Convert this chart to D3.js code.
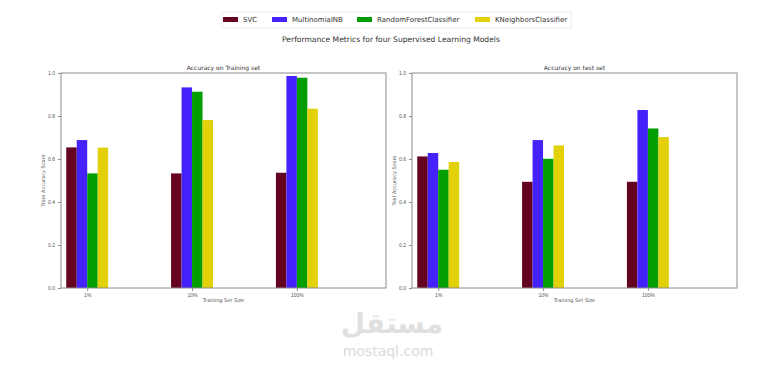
<!DOCTYPE html>
<html>
<head>
<meta charset="utf-8">
<script src="https://cdn.jsdelivr.net/npm/d3@7"></script>
<style>
  html, body { margin: 0; padding: 0; background: #fff; }
  svg { display: block; font-family: "DejaVu Sans", sans-serif; }
</style>
</head>
<body>
<svg id="chart" width="776" height="365"></svg>
<script>
// ---- data ----
const models = ["SVC", "MultinomialNB", "RandomForestClassifier", "KNeighborsClassifier"];
const colors = ["#640420", "#4322fb", "#009e00", "#e2d008"];
const sizes = ["1%", "10%", "100%"];
const trainSVC = [0.654, 0.533, 0.536];
const trainMNB = [0.688, 0.933, 0.986];
const trainRF  = [0.533, 0.913, 0.978];
const trainKNN = [0.653, 0.781, 0.834];
const testSVC = [0.612, 0.494, 0.494];
const testMNB = [0.628, 0.688, 0.828];
const testRF  = [0.550, 0.601, 0.742];
const testKNN = [0.586, 0.663, 0.702];
const yTicks = [0.0, 0.2, 0.4, 0.6, 0.8, 1.0];

const panels = [
  { title: "Accuracy on Training set", ylabel: "Train Accuracy Score", series: [trainSVC, trainMNB, trainRF, trainKNN], x0: 61, x1: 386 },
  { title: "Accuracy on test set", ylabel: "Test Accuracy Score", series: [testSVC, testMNB, testRF, testKNN], x0: 412, x1: 737 }
];

const barWidth = 0.1;
const svg = d3.select("#chart");
const plotTop = 73, plotBottom = 288;
const y = d3.scaleLinear().domain([0, 1]).range([plotBottom, plotTop]);

panels.forEach(p => {
  const x = d3.scaleLinear().domain([-0.1, 3.0]).range([p.x0, p.x1]);
  const g = svg.append("g");
  // bars
  p.series.forEach((vals, k) => {
    g.selectAll(null).data(vals).enter().append("rect")
      .attr("x", (d, i) => x(i + k * barWidth - barWidth / 2))
      .attr("width", x(barWidth) - x(0))
      .attr("y", d => y(d))
      .attr("height", d => y(0) - y(d))
      .attr("fill", colors[k]);
  });
  // frame
  g.append("rect").attr("x", p.x0).attr("y", plotTop).attr("width", p.x1 - p.x0).attr("height", plotBottom - plotTop)
    .attr("fill", "none").attr("stroke", "#8c8c8c").attr("stroke-width", 1);
  // y axis
  const yAxis = d3.axisLeft(y).tickValues(yTicks).tickFormat(d3.format(".1f")).tickSize(3).tickPadding(3);
  const ya = g.append("g").attr("transform", `translate(${p.x0},0)`).call(yAxis);
  ya.select(".domain").remove();
  ya.selectAll("line").attr("stroke", "#8c8c8c");
  ya.selectAll("text").attr("font-size", 5).attr("fill", "#555");
  // x axis
  const xAxis = d3.axisBottom(x).tickValues([0.15, 1.15, 2.15]).tickFormat((d, i) => sizes[i]).tickSize(3).tickPadding(2);
  const xa = g.append("g").attr("transform", `translate(0,${plotBottom})`).call(xAxis);
  xa.select(".domain").remove();
  xa.selectAll("line").attr("stroke", "#8c8c8c");
  xa.selectAll("text").attr("font-size", 5).attr("fill", "#555");
  // titles
  g.append("text").attr("x", (p.x0 + p.x1) / 2).attr("y", 70).attr("text-anchor", "middle")
    .attr("font-size", 6).attr("fill", "#333").text(p.title);
  g.append("text").attr("x", (p.x0 + p.x1) / 2).attr("y", 302).attr("text-anchor", "middle")
    .attr("font-size", 5).attr("fill", "#555").text("Training Set Size");
  g.append("text").attr("transform", `translate(${p.x0 - 16},${(plotTop + plotBottom) / 2}) rotate(-90)`)
    .attr("text-anchor", "middle").attr("font-size", 5).attr("fill", "#555").text(p.ylabel);
});

// legend
const leg = svg.append("g");
leg.append("rect").attr("x", 222).attr("y", 12).attr("width", 349).attr("height", 16)
  .attr("fill", "#fff").attr("stroke", "#e6e6e6").attr("stroke-width", 0.8);
const legX = [223, 272, 357, 475];
models.forEach((m, k) => {
  leg.append("rect").attr("x", legX[k]).attr("y", 17).attr("width", 15).attr("height", 5).attr("fill", colors[k]);
  leg.append("text").attr("x", legX[k] + 20).attr("y", 22.3).attr("font-size", 7).attr("fill", "#333").text(m);
});

// suptitle
svg.append("text").attr("x", 391).attr("y", 42).attr("text-anchor", "middle")
  .attr("font-size", 7.6).attr("fill", "#333").text("Performance Metrics for four Supervised Learning Models");

// watermark
svg.append("text").attr("x", 392).attr("y", 333).attr("text-anchor", "middle")
  .attr("font-size", 28).attr("font-weight", "bold").attr("fill", "#e0e0e0").text("مستقل");
svg.append("text").attr("x", 388).attr("y", 356).attr("text-anchor", "middle")
  .attr("font-size", 14).attr("fill", "#dadada").text("mostaql.com");
</script>
</body>
</html>
